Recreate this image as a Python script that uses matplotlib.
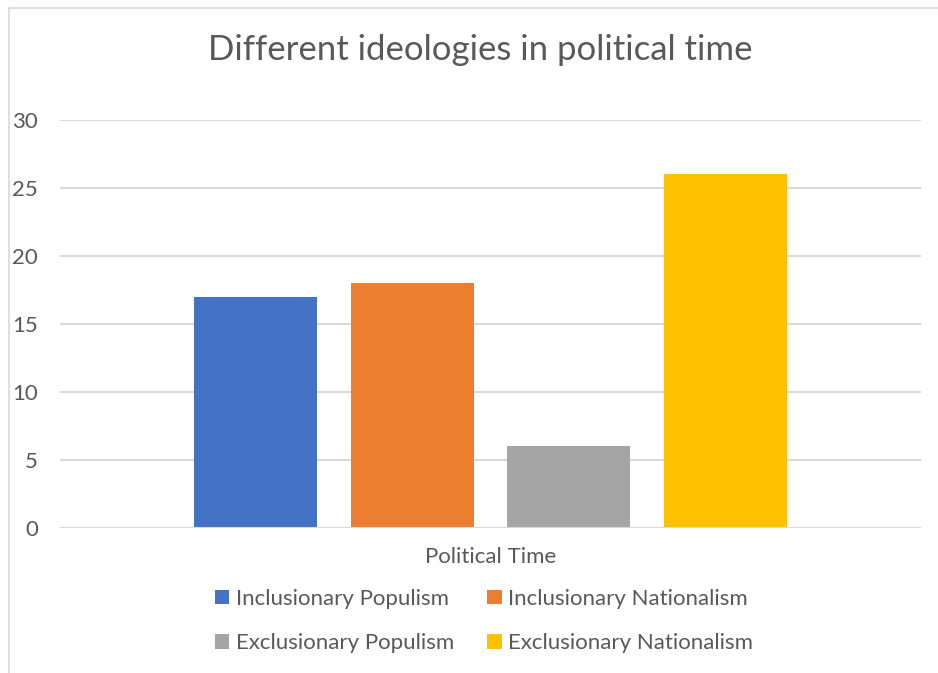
import matplotlib.pyplot as plt
from matplotlib.lines import Line2D
from matplotlib.patches import Patch
import numpy as np

title = 'Different ideologies in political time'
xlabel = 'Political Time'
series = ['Inclusionary Populism', 'Inclusionary Nationalism',
          'Exclusionary Populism', 'Exclusionary Nationalism']
values = [17, 18, 6, 26]
colors = ['#4472c4', '#ed7d31', '#a5a5a5', '#ffc000']
yticks = [0, 5, 10, 15, 20, 25, 30]

plt.rcParams['font.family'] = ['Lato', 'DejaVu Sans']
text_color = '#595959'
grid_color = '#d9d9d9'

W, H = 938, 673
fig = plt.figure(figsize=(W / 100, H / 100), dpi=100)
fig.patch.set_facecolor('white')

# plot area in pixels: x 60..921, y 120..528
ax = fig.add_axes([60 / W, (H - 528) / H, 861 / W, 408 / H])

x = np.arange(len(values)) - 1.5
bars = ax.bar(x, values, width=0.786, color=colors, zorder=3)
ax.set_xlim(-2.75, 2.75)
ax.set_ylim(0, 30)
ax.set_yticks(yticks)
ax.set_yticklabels([str(t) for t in yticks], fontsize=16, color=text_color)
ax.set_xticks([])
ax.tick_params(axis='y', length=0, pad=16)
ax.grid(axis='y', color=grid_color, linewidth=1.5, zorder=0)
for s in ax.spines.values():
    s.set_visible(False)
ax.axhline(0, color=grid_color, linewidth=1.5, zorder=4)

fig.text(480 / W, 1 - 50 / H, title, ha='center', va='center',
         fontsize=25, color=text_color)
fig.text(491 / W, 1 - 557 / H, xlabel, ha='center', va='center',
         fontsize=16, color=text_color)

# legend, row-wise order
order = [0, 2, 1, 3]
handles = [Patch(facecolor=colors[i], label=series[i]) for i in order]
leg = fig.legend(handles=handles, ncol=2, loc='center',
                 bbox_to_anchor=(484 / W, 1 - 621 / H), frameon=False,
                 fontsize=16, labelcolor=text_color, handlelength=0.65,
                 handleheight=0.65, handletextpad=0.3, columnspacing=1.5,
                 labelspacing=1.1)

# chart border (left and top)
fig.add_artist(Line2D([9 / W, 9 / W], [0, 1 - 8 / H], color='#d9d9d9', linewidth=1.2))
fig.add_artist(Line2D([9 / W, 1], [1 - 8 / H, 1 - 8 / H], color='#d9d9d9', linewidth=1.2))

fig.savefig('out.png', dpi=100)
